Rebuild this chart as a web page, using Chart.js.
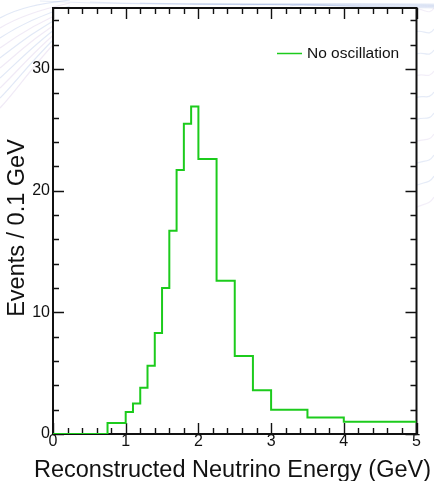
<!DOCTYPE html>
<html>
<head>
<meta charset="utf-8">
<script src="https://cdn.jsdelivr.net/npm/chart.js@4.4.1/dist/chart.umd.min.js"></script>
<style>
  html, body { margin: 0; padding: 0; background: #ffffff; }
  #wrap { width: 434px; height: 481px; }
</style>
</head>
<body>
<div id="wrap"><canvas id="c" width="434" height="481"></canvas></div>
<script>
// Histogram bins (GeV) and event counts per 0.1 GeV
const binEdges = [0, 0.75, 1.0, 1.1, 1.2, 1.3, 1.4, 1.5, 1.6, 1.7, 1.8, 1.9, 2.0, 2.25, 2.5, 2.75, 3.0, 3.5, 4.0, 5.0];
const eventsPerBin = [0, 0.9, 1.8, 2.5, 3.8, 5.6, 8.3, 12.0, 16.7, 21.7, 25.5, 26.9, 22.6, 12.6, 6.4, 3.6, 2.0, 1.35, 1.0];
const xTickValues = [0, 1, 2, 3, 4, 5];
const yTickValues = [0, 10, 20, 30];
const seriesLabel = 'No oscillation';
const xTitle = 'Reconstructed Neutrino Energy (GeV)';
const yTitle = 'Events / 0.1 GeV';

// Step outline: a point at each bin's lower edge, plus the last upper edge
const stepPoints = eventsPerBin.map((v, i) => ({ x: binEdges[i], y: v }));
stepPoints.push({ x: binEdges[binEdges.length - 1], y: eventsPerBin[eventsPerBin.length - 1] });

const LINE_GREEN = '#1ccb1c';
const FONT = '"Liberation Sans", Arial, Helvetica, sans-serif';

// Faint swirl decoration behind the frame, plus white plot area
const backdrop = {
  id: 'backdrop',
  beforeDraw(chart) {
    const { ctx, chartArea: a, width, height } = chart;
    ctx.save();
    ctx.fillStyle = '#ffffff';
    ctx.fillRect(0, 0, width, height);
    ctx.lineWidth = 1.2;
    for (let k = 0; k < 10; k++) {
      ctx.strokeStyle = k % 2 ? 'rgba(185,160,215,0.22)' : 'rgba(140,165,220,0.26)';
      ctx.beginPath();
      ctx.moveTo(0, 18 + k * 10);
      ctx.bezierCurveTo(18, 8 + k * 9, 38, 4 + k * 6, 70, k * 3);
      ctx.stroke();
    }
    for (let k = 0; k < 6; k++) {
      ctx.strokeStyle = 'rgba(150,175,225,0.22)';
      ctx.beginPath();
      ctx.moveTo(40 + k * 50, 1 + k);
      ctx.bezierCurveTo(160 + k * 30, 7 - k, 300, 2 + k, 434, 4 + k * 0.8);
      ctx.stroke();
    }
    for (let k = 0; k < 10; k++) {
      ctx.strokeStyle = k % 3 ? 'rgba(150,175,225,0.25)' : 'rgba(190,170,220,0.2)';
      ctx.beginPath();
      ctx.moveTo(412, 12 + k * 22);
      ctx.bezierCurveTo(422, 4 + k * 22, 428, 18 + k * 21, 434, 8 + k * 21);
      ctx.stroke();
    }
    ctx.fillStyle = '#ffffff';
    ctx.fillRect(a.left, a.top, a.right - a.left, a.bottom - a.top);
    ctx.restore();
  }
};

// Frame with inward ticks on all four sides, axis titles and legend entry
const frameTicks = {
  id: 'frameTicks',
  beforeDatasetsDraw(chart) {
    const { ctx, chartArea: a, scales: { x, y } } = chart;
    ctx.save();
    ctx.strokeStyle = '#111111';
    ctx.lineWidth = 1.4;
    ctx.beginPath();
    for (let v = 0; v <= 5.0001; v += 0.2) {
      const major = Math.abs(v - Math.round(v)) < 1e-6;
      const len = major ? 11 : 6;
      const px = Math.round(x.getPixelForValue(v)) + 0.5;
      ctx.moveTo(px, a.bottom); ctx.lineTo(px, a.bottom - len);
      ctx.moveTo(px, a.top); ctx.lineTo(px, a.top + len);
    }
    for (let v = 0; v <= 35; v += 2) {
      const major = v % 10 === 0;
      const len = major ? 11 : 6;
      const py = Math.round(y.getPixelForValue(v)) + 0.5;
      ctx.moveTo(a.left, py); ctx.lineTo(a.left + len, py);
      ctx.moveTo(a.right, py); ctx.lineTo(a.right - len, py);
    }
    ctx.stroke();
    ctx.lineWidth = 2;
    ctx.strokeRect(a.left, a.top, a.right - a.left, a.bottom - a.top);
    ctx.restore();
  },
  afterDraw(chart) {
    const { ctx } = chart;
    ctx.save();
    ctx.fillStyle = '#111111';
    ctx.font = '23.5px ' + FONT;
    // horizontal axis title
    ctx.textAlign = 'center';
    ctx.textBaseline = 'alphabetic';
    ctx.fillText(xTitle, 232.5, 477);
    // vertical axis title
    ctx.textBaseline = 'middle';
    ctx.translate(18, 228);
    ctx.rotate(-Math.PI / 2);
    ctx.fillText(yTitle, 0, 0);
    ctx.restore();

    // legend entry
    const ds = chart.data.datasets[0];
    ctx.save();
    ctx.strokeStyle = ds.borderColor;
    ctx.lineWidth = 1.5;
    ctx.beginPath();
    ctx.moveTo(277, 53.5); ctx.lineTo(302, 53.5);
    ctx.stroke();
    ctx.fillStyle = '#111111';
    ctx.font = '15.5px ' + FONT;
    ctx.textAlign = 'left';
    ctx.textBaseline = 'middle';
    ctx.fillText(ds.label, 307, 54);
    ctx.restore();
  }
};

new Chart(document.getElementById('c'), {
  type: 'line',
  data: {
    datasets: [{
      label: seriesLabel,
      data: stepPoints,
      stepped: 'before',
      borderColor: LINE_GREEN,
      borderWidth: 2,
      pointRadius: 0,
      fill: false,
      tension: 0
    }]
  },
  options: {
    responsive: false,
    animation: false,
    devicePixelRatio: 1,
    layout: { padding: { top: 8, right: 17.5, left: 0, bottom: 0 } },
    plugins: { legend: { display: false }, tooltip: { enabled: false } },
    scales: {
      x: {
        type: 'linear',
        min: 0,
        max: 5,
        grid: { display: false, drawTicks: false },
        border: { display: false },
        afterBuildTicks: s => { s.ticks = xTickValues.map(v => ({ value: v })); },
        afterFit: s => { s.height = 47; s.paddingLeft = 0; s.paddingRight = 0; },
        ticks: {
          autoSkip: false, maxRotation: 0, padding: 0,
          color: '#111111',
          font: { family: FONT, size: 16, lineHeight: 1 },
          callback: v => String(v)
        }
      },
      y: {
        type: 'linear',
        min: 0,
        max: 35,
        grid: { display: false, drawTicks: false },
        border: { display: false },
        afterBuildTicks: s => { s.ticks = yTickValues.map(v => ({ value: v })); },
        afterFit: s => { s.width = 53; s.paddingTop = 0; s.paddingBottom = 0; },
        ticks: {
          autoSkip: false, padding: 3,
          color: '#111111',
          font: { family: FONT, size: 16, lineHeight: 1 },
          callback: v => String(v)
        }
      }
    }
  },
  plugins: [backdrop, frameTicks]
});
</script>
</body>
</html>
